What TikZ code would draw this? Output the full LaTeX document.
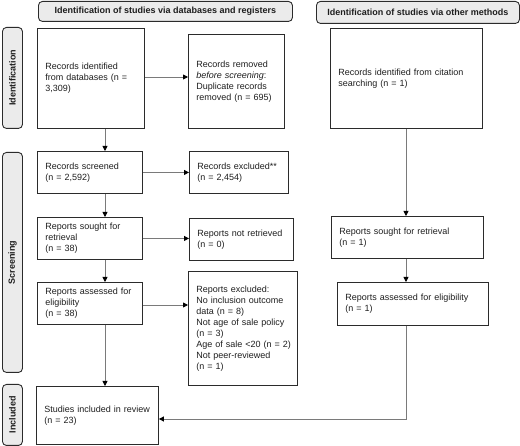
\documentclass[tikz,border=0pt]{standalone}
\usepackage{fontspec}
\setmainfont{Liberation Sans}
\usetikzlibrary{arrows.meta,calc}
\definecolor{bordc}{HTML}{2B2B2B}
\definecolor{linec}{HTML}{7A7A7A}
\definecolor{hdrfill}{HTML}{EBEBEB}
\definecolor{txtc}{HTML}{1E1E1E}
\begin{document}
\begin{tikzpicture}[x=1pt,y=-1pt,
  every node/.style={font=\fontsize{9}{11}\selectfont, text=txtc},
  box/.style={draw=bordc, line width=0.9pt, align=left, anchor=north west, inner xsep=8pt, inner ysep=2pt},
  hdr/.style={draw=bordc, line width=0.9pt, fill=hdrfill, rounded corners=4pt, anchor=north west, inner sep=0pt, font=\fontsize{9}{11}\selectfont\bfseries},
  side/.style={draw=bordc, line width=0.9pt, fill=hdrfill, rounded corners=4pt, anchor=north west, inner sep=0pt},
  sidetxt/.style={rotate=90, font=\fontsize{9}{11}\selectfont\bfseries},
  arr/.style={draw=linec, line width=0.8pt, -{Triangle[width=5pt,length=5pt,color=black]}},
  ln/.style={draw=linec, line width=0.8pt}
]
\useasboundingbox (0,0) rectangle (520,446);
% headers
\node[hdr, minimum width=254pt, minimum height=20pt] (h1) at (38,1) {Identification of studies via databases and registers};
\node[hdr, minimum width=203pt, minimum height=22pt] (h2) at (316,1) {Identification of studies via other methods};
% side labels
\node[side, minimum width=20pt, minimum height=101pt] (sidA) at (2,27) {};
\node[sidetxt] (sidAt) at (sidA.center) {Identification};
\node[side, minimum width=20pt, minimum height=220pt] (sidB) at (2,152) {};
\node[sidetxt] (sidBt) at (sidB.center) {Screening};
\node[side, minimum width=20pt, minimum height=61pt] (sidC) at (2,384) {};
\node[sidetxt] (sidCt) at (sidC.center) {Included};
% left column
\node[box, text width=91pt, minimum height=100pt] (idDB) at (37,28) {Records identified\\from databases (n =\\3,309)};
\node[box, text width=80pt, minimum height=94pt] (removed) at (188,34) {Records removed\\\textit{before screening}:\\Duplicate records\\removed (n = 695)};
\node[box, text width=89pt, minimum height=42pt] (screened) at (37,151) {Records screened\\(n = 2,592)};
\node[box, text width=83pt, minimum height=42pt] (excluded) at (189,151) {Records excluded**\\(n = 2,454)};
\node[box, text width=89pt, minimum height=42pt] (sought) at (37,217) {Reports sought for\\retrieval\\(n = 38)};
\node[box, text width=88pt, minimum height=42pt] (notret) at (189,218) {Reports not retrieved\\(n = 0)};
\node[box, text width=89pt, minimum height=42pt] (assessed) at (37,282) {Reports assessed for\\eligibility\\(n = 38)};
\node[box, text width=93pt, minimum height=114pt] (repexcl) at (188,271) {Reports excluded:\\No inclusion outcome\\data (n = 8)\\Not age of sale policy\\(n = 3)\\\mbox{Age of sale {<}20 (n = 2)}\\Not peer-reviewed\\(n = 1)};
\node[box, text width=106pt, minimum height=58pt] (included) at (36,386) {Studies included in review\\(n = 23)};
% right column
\node[box, text width=136pt, minimum height=100pt] (cite) at (330,28) {Records identified from citation\\searching (n = 1)};
\node[box, text width=136pt, minimum height=42pt] (sought2) at (331,216) {Reports sought for retrieval\\(n = 1)};
\node[box, text width=135pt, minimum height=43pt] (assessed2) at (337,282) {Reports assessed for eligibility\\(n = 1)};
% helper coordinates
\coordinate (vx) at (105,0);
\coordinate (rx) at (406,0);
\coordinate (iy) at (0,419);
\coordinate (ay) at (0,77);
\coordinate (by) at (0,305);
% connectors
\draw[arr] (idDB.east |- ay) -- (removed.west |- ay);
\draw[arr] (screened.east) -- (excluded.west |- screened.east);
\draw[arr] (sought.east) -- (notret.west |- sought.east);
\draw[arr] (assessed.east |- by) -- (repexcl.west |- by);
\draw[arr] (idDB.south -| vx) -- (screened.north -| vx);
\draw[arr] (screened.south -| vx) -- (sought.north -| vx);
\draw[arr] (sought.south -| vx) -- (assessed.north -| vx);
\draw[arr] (assessed.south -| vx) -- (included.north -| vx);
\draw[arr] (cite.south -| rx) -- (sought2.north -| rx);
\draw[arr] (sought2.south -| rx) -- (assessed2.north -| rx);
\draw[arr] (assessed2.south -| rx) |- (included.east |- iy);
\end{tikzpicture}
\end{document}
